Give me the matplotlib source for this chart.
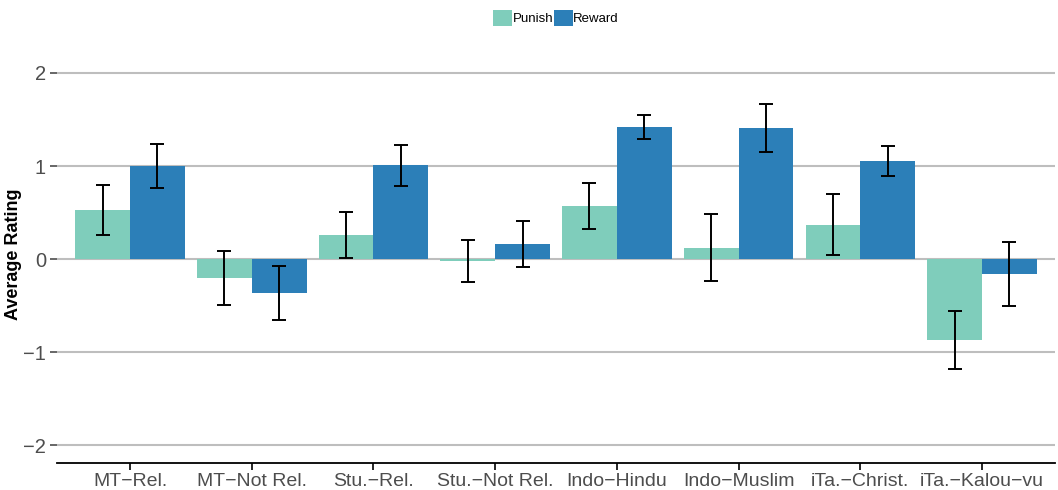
import matplotlib
matplotlib.use("Agg")
import matplotlib.pyplot as plt
import numpy as np
from matplotlib.patches import Patch

plt.rcParams['font.family'] = ['Liberation Sans', 'DejaVu Sans']

categories = ["MT\u2212Rel.", "MT\u2212Not Rel.", "Stu.\u2212Rel.", "Stu.\u2212Not Rel.",
              "Indo\u2212Hindu", "Indo\u2212Muslim", "iTa.\u2212Christ.", "iTa.\u2212Kalou\u2212vu"]
punish = [0.53, -0.20, 0.26, -0.02, 0.57, 0.12, 0.37, -0.87]
punish_err = [0.27, 0.29, 0.25, 0.23, 0.245, 0.36, 0.33, 0.315]
reward = [1.00, -0.36, 1.01, 0.16, 1.42, 1.41, 1.055, -0.16]
reward_err = [0.24, 0.29, 0.22, 0.25, 0.13, 0.255, 0.16, 0.345]

punish_color = "#7FCDBB"
reward_color = "#2C7FB8"

fig = plt.figure(figsize=(10.58, 4.9), dpi=100)
ax = fig.add_axes([57 / 1058, 27 / 490, (1055 - 57) / 1058, (463 - 45) / 490])

x = np.arange(1, len(categories) + 1)
w = 0.45

for yv in [-2, -1, 0, 1, 2]:
    ax.axhline(yv, color="#BEBEBE", lw=1.5, zorder=0)

ax.bar(x - w / 2, punish, width=w, color=punish_color, zorder=2)
ax.bar(x + w / 2, reward, width=w, color=reward_color, zorder=2)
ekw = dict(fmt="none", ecolor="black", elinewidth=1.4, capsize=5, capthick=1.4, zorder=3)
ax.errorbar(x - w / 2, punish, yerr=punish_err, **ekw)
ax.errorbar(x + w / 2, reward, yerr=reward_err, **ekw)

ax.set_xlim(0.4, 8.6)
ax.set_ylim(-2.19, 2.3)
ax.set_xticks(x)
ax.set_xticklabels(categories)
ax.set_yticks([-2, -1, 0, 1, 2])
ax.set_yticklabels(["\u22122", "\u22121", "0", "1", "2"])
ax.tick_params(axis="y", length=5, width=1.2, color="#4D4D4D", labelsize=14.5,
               labelcolor="#4D4D4D", pad=3)
ax.tick_params(axis="x", length=5, width=1.2, color="black", labelsize=14,
               labelcolor="#4D4D4D", pad=2)

for s in ["top", "right", "left"]:
    ax.spines[s].set_visible(False)
ax.spines["bottom"].set_linewidth(1.3)
ax.spines["bottom"].set_color("black")

ax.set_ylabel("Average Rating", fontsize=13, fontweight="bold")
ax.yaxis.set_label_coords(-0.035, 0.5)

handles = [Patch(facecolor=punish_color), Patch(facecolor=reward_color)]
fig.legend(handles, ["Punish", "Reward"], loc="center", bbox_to_anchor=(556 / 1058, 1 - 18 / 490),
           ncol=2, frameon=False, fontsize=9.5, handlelength=1.45, handleheight=1.45,
           handletextpad=0.05, columnspacing=0.0, borderpad=0)

fig.savefig("out.png", dpi=100)
